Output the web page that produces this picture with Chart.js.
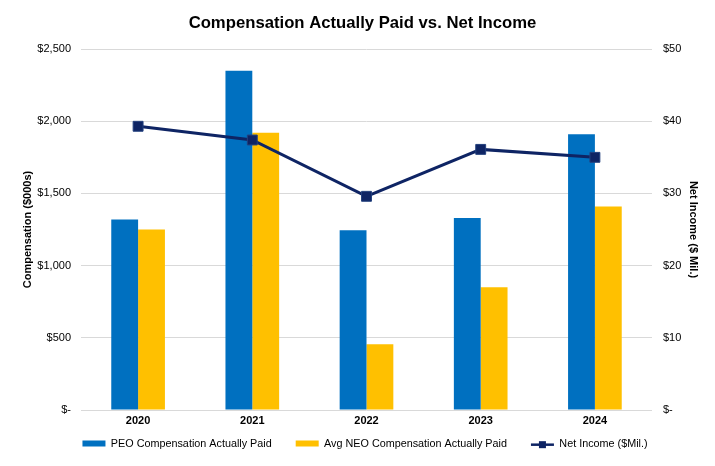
<!DOCTYPE html>
<html>
<head>
<meta charset="utf-8">
<script src="https://cdn.jsdelivr.net/npm/chart.js@4/dist/chart.umd.min.js"></script>
<style>
html,body{margin:0;padding:0;background:#fff;}
#wrap{width:715px;height:466px;}
</style>
</head>
<body>
<div id="wrap"><canvas id="c" width="715" height="466"></canvas></div>
<script>
const years = ['2020','2021','2022','2023','2024'];
const peoCAP = [1320, 2350, 1245, 1330, 1910];
const neoCAP = [1250, 1920, 455, 850, 1410];
const netIncome = [39.3, 37.4, 29.6, 36.1, 35.0];
const compTicks = [0, 500, 1000, 1500, 2000, 2500];
const incomeTicks = [0, 10, 20, 30, 40, 50];

const FONT = "'Liberation Sans', Arial, sans-serif";
const NAVY = '#0E2464';
const LEGEND_SHIFT_X = 2.5;
const LEGEND_SHIFT_Y = -17;

const legendShiftPlugin = {
  id: 'legendShift',
  afterLayout(chart) {
    const lg = chart.legend;
    if (!lg) return;
    lg.left += LEGEND_SHIFT_X;
    lg.right += LEGEND_SHIFT_X;
    lg.top += LEGEND_SHIFT_Y;
    lg.bottom += LEGEND_SHIFT_Y;
  }
};

const lineLegendPlugin = {
  id: 'lineLegend',
  afterDraw(chart) {
    const lg = chart.legend;
    if (!lg) return;
    const items = lg.legendItems;
    const ctx = chart.ctx;
    const bw = lg.options.labels.boxWidth;
    const bh = lg.options.labels.boxHeight;
    const fs = lg.options.labels.font.size;
    const pad = lg.options.labels.padding;
    ctx.save();
    ctx.font = `${fs}px ${FONT}`;
    const widths = items.map(it => bw + fs / 2 + ctx.measureText(it.text).width);
    const total = widths.reduce((a, b) => a + b, 0) + pad * (items.length - 1);
    let x = (lg.left + lg.right) / 2 - total / 2;
    const lineH = fs * 1.2;
    const cy = lg.top + pad + lineH / 2;
    items.forEach((it, i) => {
      if (it.datasetIndex === 2) {
        ctx.fillStyle = '#fff';
        ctx.fillRect(x - 4, cy - bh / 2 - 4, bw + 8, bh + 8);
        ctx.strokeStyle = NAVY;
        ctx.lineWidth = 2.5;
        ctx.beginPath();
        ctx.moveTo(x, cy);
        ctx.lineTo(x + bw, cy);
        ctx.stroke();
        ctx.fillStyle = NAVY;
        ctx.fillRect(x + bw / 2 - 3.5, cy - 3.5, 7, 7);
      }
      x += widths[i] + pad;
    });
    ctx.restore();
  }
};

new Chart(document.getElementById('c'), {
  type: 'bar',
  data: {
    labels: years,
    datasets: [
      {
        label: 'PEO Compensation Actually Paid',
        data: peoCAP,
        backgroundColor: '#0070C0',
        yAxisID: 'y',
        order: 1,
        categoryPercentage: 0.47,
        barPercentage: 1.0
      },
      {
        label: 'Avg NEO Compensation Actually Paid',
        data: neoCAP,
        backgroundColor: '#FFC000',
        yAxisID: 'y',
        order: 1,
        categoryPercentage: 0.47,
        barPercentage: 1.0
      },
      {
        type: 'line',
        label: 'Net Income ($Mil.)',
        data: netIncome,
        borderColor: NAVY,
        backgroundColor: NAVY,
        borderWidth: 3,
        pointStyle: 'rect',
        pointRadius: 7,
        pointBorderColor: '#23407e',
        pointBorderWidth: 1,
        pointBackgroundColor: NAVY,
        tension: 0,
        yAxisID: 'y1',
        order: 0
      }
    ]
  },
  options: {
    responsive: false,
    animation: false,
    layout: { padding: { top: 11, left: 21, right: 11, bottom: -10 } },
    plugins: {
      title: {
        display: true,
        text: 'Compensation Actually Paid vs. Net Income',
        color: '#000',
        font: { family: FONT, size: 16.7, weight: 'bold' },
        padding: { top: 2, bottom: 16 }
      },
      legend: {
        position: 'bottom',
        labels: {
          color: '#000',
          font: { family: FONT, size: 10.8 },
          boxWidth: 23,
          boxHeight: 6,
          padding: 24,
          sort: (a, b) => a.datasetIndex - b.datasetIndex
        }
      },
      tooltip: { enabled: false }
    },
    scales: {
      x: {
        grid: { display: false, drawTicks: false },
        border: { display: false },
        ticks: { color: '#000', font: { family: FONT, size: 11, weight: 'bold' }, padding: 4 }
      },
      y: {
        position: 'left',
        min: 0, max: 2500,
        afterBuildTicks: (s) => { s.ticks = compTicks.map(v => ({ value: v })); },
        grid: { color: '#d9d9d9', lineWidth: 1, drawTicks: false },
        border: { display: false },
        ticks: {
          color: '#000',
          font: { family: FONT, size: 11 },
          padding: 10,
          callback: (v) => v === 0 ? '$-' : '$' + v.toLocaleString('en-US')
        },
        title: {
          display: true,
          text: 'Compensation ($000s)',
          color: '#000',
          font: { family: FONT, size: 11, weight: 'bold' },
          padding: { top: 0, bottom: 4 }
        },
        afterFit: (s) => { s.width = 60; }
      },
      y1: {
        position: 'right',
        min: 0, max: 50,
        afterBuildTicks: (s) => { s.ticks = incomeTicks.map(v => ({ value: v })); },
        grid: { display: false, drawTicks: false },
        border: { display: false },
        ticks: {
          color: '#000',
          font: { family: FONT, size: 11 },
          padding: 11,
          callback: (v) => v === 0 ? '$-' : '$' + v
        },
        title: {
          display: true,
          text: 'Net Income ($ Mil.)',
          color: '#000',
          font: { family: FONT, size: 11, weight: 'bold' },
          padding: { top: 4, bottom: 0 }
        },
        afterFit: (s) => { s.width = 52; }
      }
    }
  },
  plugins: [legendShiftPlugin, lineLegendPlugin]
});
</script>
</body>
</html>
